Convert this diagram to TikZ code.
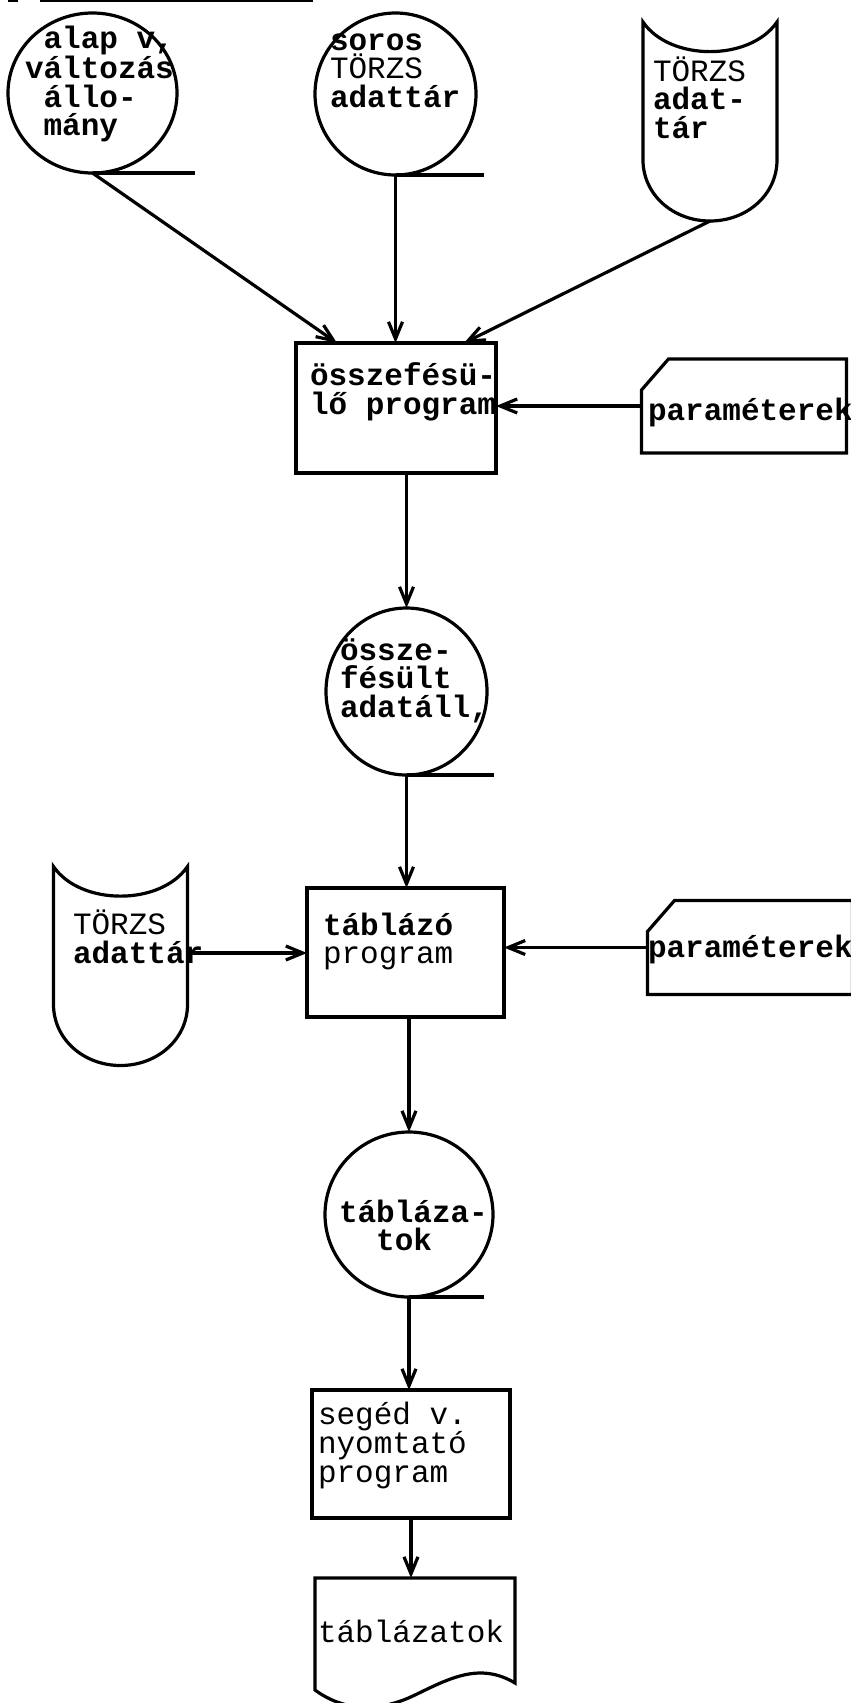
\documentclass[tikz,border=0pt]{standalone}
\usepackage{fontspec}
\setmonofont{Liberation Mono}
\usetikzlibrary{arrows.meta,shapes.geometric}

% magnetic tape store: name, x, y
\newcommand{\tapeshape}[3]{%
  \node [minimum width=134pt, minimum height=199pt] (#1) at (#2,#3) {};
  \draw [shift={(#2,#3)}] (-67,-99.5) .. controls (-40,-60) and (40,-60) .. (67,-99.5)
    -- (67,38.5) .. controls (67,73) and (37,99.5) .. (0,99.5)
    .. controls (-37,99.5) and (-67,73) .. (-67,38.5) -- cycle;}

% punched card: name, x, y
\newcommand{\cardshape}[3]{%
  \node [minimum width=205pt, minimum height=94pt] (#1) at (#2,#3) {};
  \draw (#1.south west) -- ([yshift=-31pt]#1.north west) -- ([xshift=27pt]#1.north west)
    -- (#1.north east) -- (#1.south east) -- cycle;}

\begin{document}
\begin{tikzpicture}[x=1pt, y=-1pt, line width=3.2pt,
    every node/.style={inner sep=0pt, outer sep=0pt},
    txt/.style={anchor=base west, align=left,
        font=\fontsize{31}{28.5}\selectfont\ttfamily\bfseries},
    thintxt/.style={txt, font=\fontsize{31}{28.5}\selectfont\ttfamily},
    flow/.style={-{Straight Barb[length=17pt,width=14pt]}}]
        \useasboundingbox (0,0) rectangle (851,1703);
        \draw[line width=2pt] (8,1) -- (18,1) (40,1) -- (313,1);

        % input files (texts placed by their last line)
        \node [draw, ellipse,
            minimum width=169pt,
            minimum height=160pt,
        ] (alap) at (92.5,93){};
        \node [txt] (alaptext) at (25,135.5){~alap v,\\változás\\~állo-\\~mány};
        \draw (alap.south) -- ++(102,0);

        \node [draw, ellipse,
            minimum width=161pt,
            minimum height=162pt,
        ] (soros) at (395.5,94){};
        \node [txt] (sorostext) at (330,107){soros\\{\mdseries TÖRZS}\\adattár};
        \draw (soros.south) -- ++(88,0);

        \tapeshape{torzsR}{710}{121.5}
        \node [txt] (torzsRtext) at (653,138){{\mdseries TÖRZS}\\adat-\\tár};

        % merge program
        \node [draw,
            minimum width=200pt,
            minimum height=130pt,
        ] (osszef) at (396,408){};
        \node [txt] (osszeftext) at (310,414){összefésü-\\lő program};

        \cardshape{param}{744}{406}
        \node [txt] (paramtext) at (648,420){paraméterek};

        \draw[flow] (alap.south)--([xshift=41pt]osszef.north west);
        \draw[flow] (soros.south)--(soros.south|-osszef.north);
        \draw[flow] (torzsR.south)--([xshift=-32pt]osszef.north east);
        \draw[flow] (param.west)--(param.west-|osszef.east);

        % merged file
        \node [draw, ellipse,
            minimum width=161pt,
            minimum height=167pt,
        ] (osszefesult) at (406.5,691.5){};
        \node [txt] (osszefesulttext) at (340,717){össze-\\fésült\\adatáll,};
        \draw (osszefesult.south) -- ++(87,0);
        \draw[flow] (osszefesult.north|-osszef.south)--(osszefesult.north);

        % tabulating program
        \node [draw,
            minimum width=197pt,
            minimum height=129pt,
        ] (tablazo) at (405.5,952.5){};
        \node [txt] (tablazotext) at (323,963.5){táblázó\\{\mdseries program}};

        \tapeshape{torzsL}{120.5}{966}
        \node [txt] (torzsLtext) at (73,963){{\mdseries TÖRZS}\\adattár};

        \cardshape{param2}{750}{947.5}
        \node [txt] (param2text) at (648,957){paraméterek};

        \draw[flow] (osszefesult.south)--(osszefesult.south|-tablazo.north);
        \draw[flow] ([yshift=13pt]torzsL.east)--([yshift=13pt]torzsL.east-|tablazo.west);
        \draw[flow] (param2.west)--(param2.west-|tablazo.east);

        % tables file
        \node [draw, ellipse,
            minimum width=168pt,
            minimum height=165pt,
        ] (tablazatok) at (409,1214.5){};
        \node [txt] (tablazatoktext) at (339,1250.5){tábláza-\\~~tok};
        \draw (tablazatok.south) -- ++(75,0);
        \draw[flow] (tablazatok.north|-tablazo.south)--(tablazatok.north);

        % printing program
        \node [draw,
            minimum width=198pt,
            minimum height=128pt,
        ] (seged) at (411,1454){};
        \node [thintxt] (segedtext) at (318,1482){segéd v.\\nyomtató\\program};
        \draw[flow] (tablazatok.south)--(tablazatok.south|-seged.north);

        % printed tables
        \node [minimum width=200pt, minimum height=112pt] (lista) at (415,1634){};
        \draw (lista.south west) -- (lista.north west) -- (lista.north east)
            -- ([yshift=7pt]lista.south east) .. controls (480,1662) and (450,1678) .. (415,1695)
            .. controls (380,1712) and (345,1712) .. (lista.south west) -- cycle;
        \node [thintxt] (listatext) at (318,1642){táblázatok};
        \draw[flow] (seged.south)--(seged.south|-lista.north);
\end{tikzpicture}
\end{document}
